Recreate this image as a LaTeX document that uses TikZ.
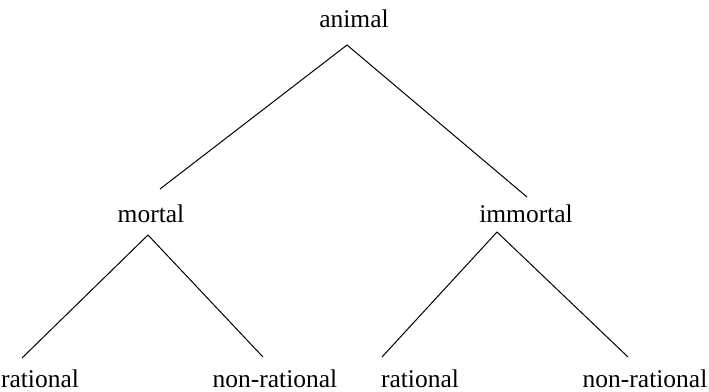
\documentclass[tikz,border=0pt]{standalone}
\usepackage{fontspec}
\setmainfont{Liberation Serif}
\begin{document}
\begin{tikzpicture}[x=1pt,y=-1pt,
  lbl/.style={anchor=base,inner sep=0pt,font=\fontsize{25.5}{30}\selectfont},
  edge/.style={line width=1pt,black}]
\useasboundingbox (0,0) rectangle (709,391);
\node[lbl] (animal) at (354,27) {animal};
\node[lbl] (mortal) at (151,222) {mortal};
\node[lbl] (immortal) at (526,222) {immortal};
\node[lbl] (r1) at (40,387) {rational};
\node[lbl] (n1) at (275,387) {non-rational};
\node[lbl] (r2) at (420,387) {rational};
\node[lbl] (n2) at (645,387) {non-rational};
\coordinate (a0) at (347,45);
\coordinate (aL) at (160,189);
\coordinate (aR) at (527,197);
\coordinate (m0) at (148,235);
\coordinate (mL) at (22,358);
\coordinate (mR) at (263,357);
\coordinate (i0) at (497,232);
\coordinate (iL) at (382,357);
\coordinate (iR) at (628,357);
\draw[edge] (aL) -- (a0) -- (aR);
\draw[edge] (mL) -- (m0) -- (mR);
\draw[edge] (iL) -- (i0) -- (iR);
\end{tikzpicture}
\end{document}
